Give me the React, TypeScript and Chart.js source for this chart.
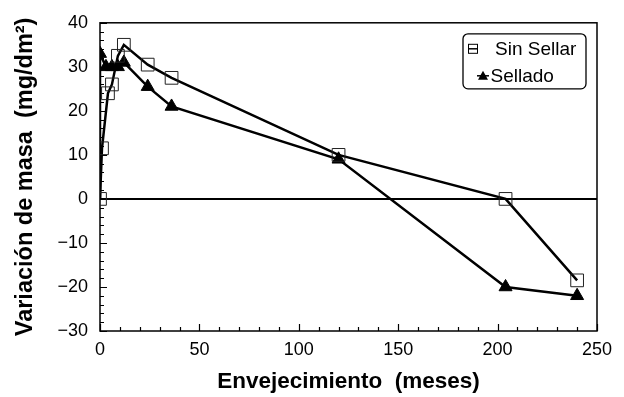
import React, { useEffect, useRef } from 'react';
import { Chart, registerables } from 'chart.js';
Chart.register(...registerables);

const sinSellarMonths = [0, 1, 4, 6, 9, 12, 24, 36, 120, 204, 240];
const sinSellarMass = [0, 11.5, 24, 26, 32.5, 35, 30.5, 27.5, 10, 0, -18.5];
const selladoMonths = [0, 0, 3, 6, 9, 12, 24, 36, 120, 204, 240];
const selladoMass = [0, 33, 30, 30, 30, 31, 25.5, 21, 9, -20, -22];
const seriesLabels = ['Sin Sellar', 'Sellado'];
const xTitle = 'Envejecimiento  (meses)';
const yTitle = 'Variación de masa  (mg/dm²)';
const xRange = [0, 250];
const yRange = [-30, 40];

const FONT = '"Liberation Sans", Arial, Helvetica, sans-serif';

const framePlugin = {
  id: 'framePlugin',
  beforeDatasetsDraw(chart: any) {
    const { ctx, chartArea: a, scales } = chart;
    const x = scales.x, y = scales.y;
    ctx.save();
    ctx.strokeStyle = '#000';
    ctx.lineCap = 'butt';
    // zero line
    ctx.lineWidth = 2;
    const y0 = y.getPixelForValue(0);
    ctx.beginPath();
    ctx.moveTo(a.left, y0);
    ctx.lineTo(a.right, y0);
    ctx.stroke();
    // frame
    ctx.lineWidth = 1.5;
    ctx.strokeRect(a.left, a.top, a.right - a.left, a.bottom - a.top);
    // inward ticks
    ctx.lineWidth = 1.2;
    ctx.beginPath();
    for (let v = xRange[0]; v <= xRange[1]; v += 10) {
      const px = Math.round(x.getPixelForValue(v)) + 0.5;
      const len = v % 50 === 0 ? 7 : 4;
      ctx.moveTo(px, a.bottom);
      ctx.lineTo(px, a.bottom - len);
    }
    for (let v = yRange[0]; v <= yRange[1]; v += 2) {
      const py = Math.round(y.getPixelForValue(v)) + 0.5;
      const len = v % 10 === 0 ? 7 : 4;
      ctx.moveTo(a.left, py);
      ctx.lineTo(a.left + len, py);
    }
    ctx.stroke();
    ctx.restore();
  },
  afterDraw(chart: any) {
    const { ctx, chartArea: a } = chart;
    const bw = 123, bh = 55;
    const bx = a.right - 134, by = a.top + 11;
    ctx.save();
    ctx.strokeStyle = '#000';
    ctx.fillStyle = '#fff';
    ctx.lineWidth = 1.3;
    ctx.beginPath();
    (ctx as any).roundRect(bx, by, bw, bh, 5);
    ctx.fill();
    ctx.stroke();
    ctx.font = '19px ' + FONT;
    ctx.textBaseline = 'middle';
    ctx.fillStyle = '#000';
    // item 1: square
    const y1 = by + 15;
    ctx.lineWidth = 1.5;
    ctx.beginPath();
    ctx.moveTo(bx + 5, y1);
    ctx.lineTo(bx + 15, y1);
    ctx.stroke();
    ctx.lineWidth = 1;
    ctx.strokeRect(bx + 5.5, y1 - 4.5, 9, 9);
    ctx.fillText(seriesLabels[0], bx + 32, y1 + 1);
    // item 2: triangle
    const y2 = by + 42;
    ctx.lineWidth = 1.5;
    ctx.beginPath();
    ctx.moveTo(bx + 14, y2);
    ctx.lineTo(bx + 26, y2);
    ctx.stroke();
    ctx.beginPath();
    ctx.moveTo(bx + 20, y2 - 5);
    ctx.lineTo(bx + 25, y2 + 4);
    ctx.lineTo(bx + 15, y2 + 4);
    ctx.closePath();
    ctx.fill();
    ctx.fillText(seriesLabels[1], bx + 27.5, y2 + 1);
    ctx.restore();
  },
};

const fmt = (v: any) => {
  const n = Number(v);
  return n < 0 ? '\u2212' + Math.abs(n) : String(n);
};

export default function App() {
  const ref = useRef<HTMLCanvasElement>(null);
  useEffect(() => {
    if (!ref.current) return;
    Chart.defaults.font.family = FONT;
    Chart.defaults.color = '#000';
    const chart = new Chart(ref.current, {
      type: 'scatter',
      data: {
        datasets: [
          {
            label: seriesLabels[0],
            data: sinSellarMonths.map((m, i) => ({ x: m, y: sinSellarMass[i] })),
            showLine: true,
            borderColor: '#000',
            borderWidth: 2.5,
            pointStyle: 'rect',
            pointRadius: 9,
            pointBorderWidth: 1,
            pointBorderColor: '#222',
            pointBackgroundColor: 'rgba(255,255,255,0)',
          },
          {
            label: seriesLabels[1],
            data: selladoMonths.map((m, i) => ({ x: m, y: selladoMass[i] })),
            showLine: true,
            borderColor: '#000',
            borderWidth: 2.5,
            pointStyle: 'triangle',
            pointRadius: selladoMonths.map((_, i) => (i === 0 ? 0 : 7.5)),
            pointBorderWidth: 1,
            pointBorderColor: '#000',
            pointBackgroundColor: '#000',
          },
        ],
      },
      options: {
        animation: false,
        responsive: true,
        maintainAspectRatio: false,
        layout: { padding: { top: 22, right: 27, left: 0, bottom: 0 } },
        plugins: { legend: { display: false }, tooltip: { enabled: false } },
        scales: {
          x: {
            type: 'linear',
            min: xRange[0],
            max: xRange[1],
            grid: { display: false, drawTicks: false },
            border: { display: false },
            ticks: { stepSize: 50, padding: 8, font: { size: 18 }, color: '#000', callback: fmt },
            title: {
              display: true,
              text: xTitle,
              font: { size: 22.5, weight: 'bold' },
              color: '#000',
              padding: { top: 0, bottom: 2 },
            },
            afterFit: (s: any) => {
              s.height = 66;
            },
          },
          y: {
            type: 'linear',
            min: yRange[0],
            max: yRange[1],
            grid: { display: false, drawTicks: false },
            border: { display: false },
            ticks: { stepSize: 10, padding: 12, font: { size: 18 }, color: '#000', callback: fmt },
            title: {
              display: true,
              text: yTitle,
              font: { size: 23.5, weight: 'bold' },
              color: '#000',
              padding: { top: 11, bottom: 0 },
            },
            afterFit: (s: any) => {
              s.width = 100;
            },
          },
        },
      } as any,
      plugins: [framePlugin],
    });
    return () => chart.destroy();
  }, []);
  return (
    <div style={{ position: 'fixed', left: 0, top: 0, width: 624, height: 397, background: '#fff' }}>
      <canvas ref={ref} />
    </div>
  );
}
